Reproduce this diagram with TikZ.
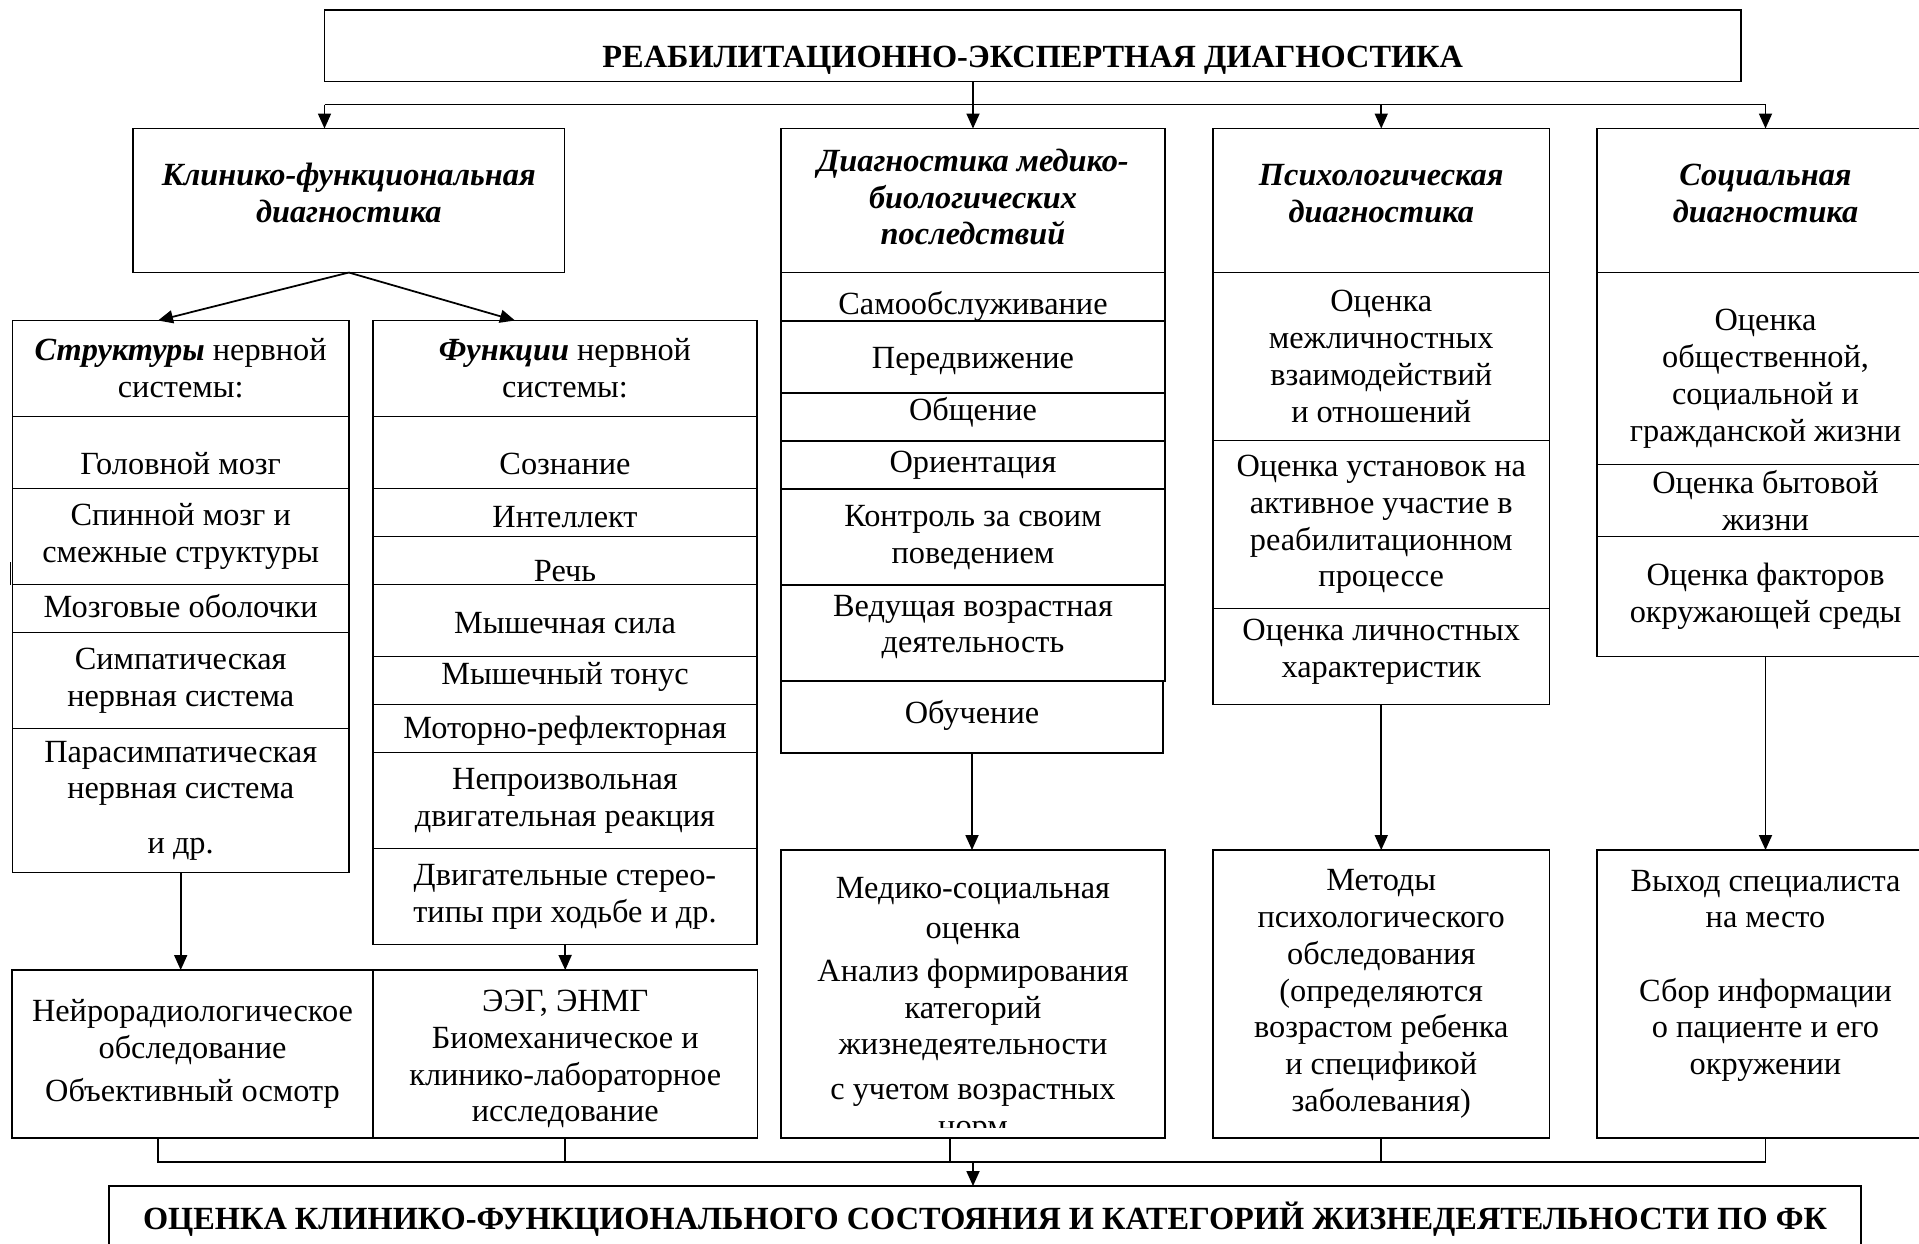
\documentclass[tikz,border=0pt]{standalone}
\usepackage{fontspec}
\setmainfont{Liberation Serif}
\usetikzlibrary{arrows.meta,positioning}
\newcommand{\cellfont}{\fontsize{9.2}{10.45}\selectfont}
\newcommand{\padhigh}[1]{\rule{0pt}{#1}}
\newcommand{\padlow}[1]{\rule[-#1]{0pt}{0pt}}
\tikzset{
  cell/.style={draw, line width=0.5pt, align=center, inner sep=0pt, outer sep=0pt, font=\cellfont},
  head/.style={cell, font=\cellfont\bfseries\itshape},
  caps/.style={cell, font=\cellfont\bfseries},
  note/.style={align=center, inner sep=0pt, font=\cellfont},
  span/.style={minimum height=#1*0.24cm},
  strcell/.style={cell, minimum width=3.366cm},
  funcell/.style={cell, minimum width=3.84cm},
  medcell/.style={cell, minimum width=3.84cm},
  psycell/.style={cell, minimum width=3.365cm},
  soccell/.style={cell, minimum width=3.37cm},
  arrow/.style={-{Triangle[length=1.5mm, width=1.3mm]}, line width=0.5pt},
  link/.style={line width=0.5pt}
}

\begin{document}
\begin{tikzpicture}[node distance=0pt]
  \useasboundingbox (0,0) rectangle (19.19,-12.43);
  \clip (0,0) rectangle (19.19,-12.43);

  \node[caps, anchor=north west, minimum width=14.165cm, minimum height=0.715cm, text height=0.44cm, text depth=0pt] (title) at (3.245,-0.10) {РЕАБИЛИТАЦИОННО-ЭКСПЕРТНАЯ ДИАГНОСТИКА};

  \node[head, anchor=north west, minimum width=4.316cm, span=6] (clin) at (1.33,-1.285) {Клинико-функциональная\\диагностика\padlow{4.2pt}};

  \node[strcell, anchor=north west, span=4] (structhead) at (0.124,-3.205) {\textbf{\textit{Структуры}} нервной\\системы:};
  \node[strcell, span=3, below=of structhead] (structbrain) {\padhigh{12.5pt}Головной мозг};
  \node[strcell, span=4, below=of structbrain] (structspine) {Спинной мозг и\\смежные структуры};
  \node[strcell, span=2, below=of structspine] (structmen) {Мозговые оболочки\padlow{1.4pt}};
  \node[strcell, span=4, below=of structmen] (structsymp) {Симпатическая\\нервная система};
  \node[strcell, span=6, below=of structsymp] (structpara) {Парасимпатическая\\нервная система\\[5pt]и др.};

  \node[funcell, anchor=north west, span=4] (funchead) at (3.73,-3.205) {\textbf{\textit{Функции}} нервной\\системы:};
  \node[funcell, span=3, below=of funchead] (funccons) {\padhigh{12.5pt}Сознание};
  \node[funcell, span=2, below=of funccons] (funcintel) {\padhigh{8.4pt}Интеллект};
  \node[funcell, span=2, below=of funcintel] (funcspeech) {\padhigh{11.9pt}Речь};
  \node[funcell, span=3, below=of funcspeech] (funcpower) {\padhigh{7.7pt}Мышечная сила};
  \node[funcell, span=2, below=of funcpower] (functone) {Мышечный тонус\padlow{4pt}};
  \node[funcell, span=2, below=of functone] (funcmotor) {\padhigh{7.7pt}Моторно-рефлекторная};
  \node[funcell, span=4, below=of funcmotor] (funcinvol) {Непроизвольная\\двигательная реакция};
  \node[funcell, span=4, below=of funcinvol] (funcstereo) {Двигательные стерео-\\типы при ходьбе и др.};

  \node[medcell, font=\cellfont\bfseries\itshape, anchor=north west, span=6] (medhead) at (7.81,-1.285) {Диагностика медико-\\биологических\\последствий\padlow{2.1pt}};
  \node[medcell, span=2, below=of medhead] (medself) {\padhigh{11.9pt}Самообслуживание};
  \node[medcell, span=3, below=of medself] (medmove) {\padhigh{8.4pt}Передвижение};
  \node[medcell, span=2, below=of medmove] (medcomm) {Общение\padlow{4.7pt}};
  \node[medcell, span=2, below=of medcomm] (medorient) {Ориентация};
  \node[medcell, span=4, below=of medorient] (medcontrol) {Контроль за своим\\поведением};
  \node[medcell, span=4, below=of medcontrol] (medlead) {Ведущая возрастная\\деятельность\padlow{5.4pt}};
  \node[cell, minimum width=3.82cm, span=3, below=of medlead.south west, anchor=north west] (medlearn) {Обучение\padlow{3.3pt}};

  \node[psycell, font=\cellfont\bfseries\itshape, anchor=north west, span=6] (psyhead) at (12.13,-1.285) {Психологическая\\диагностика\padlow{4.2pt}};
  \node[psycell, span=7, below=of psyhead] (psyinter) {Оценка\\межличностных\\взаимодействий\\и отношений};
  \node[psycell, span=7, below=of psyinter] (psyattit) {Оценка установок на\\активное участие в\\реабилитационном\\процессе};
  \node[psycell, span=4, below=of psyattit] (psypers) {Оценка личностных\\характеристик\padlow{4.7pt}};

  \node[soccell, font=\cellfont\bfseries\itshape, anchor=north west, span=6] (sochead) at (15.97,-1.285) {Социальная\\диагностика\padlow{4.2pt}};
  \node[soccell, span=8, below=of sochead] (soclife) {\padhigh{11.9pt}Оценка\\общественной,\\социальной и\\гражданской жизни};
  \node[soccell, span=3, below=of soclife] (sochome) {Оценка бытовой\\жизни};
  \node[soccell, span=5, below=of sochome] (socenv) {Оценка факторов\\окружающей среды};

  \node[cell, anchor=north west, minimum width=3.61cm, span=7] (neuro) at (0.12,-9.70) {Нейрорадиологическое\\обследование\\[2pt]Объективный осмотр};
  \node[cell, right=of neuro, minimum width=3.845cm, span=7] (eeg) {\padhigh{9.1pt}ЭЭГ, ЭНМГ\\Биомеханическое и\\клинико-лабораторное\\исследование};

  \node[medcell, anchor=north west, span=12] (medres) at (7.81,-8.50) {};
  \begin{scope}
    \clip (medres.north west) rectangle ([yshift=0.11cm]medres.south east);
    \node[note, anchor=north] (medtxt) at ([yshift=-0.265cm]medres.north) {Медико-социальная\\[1pt]оценка\\[1.7pt]Анализ формирования\\категорий\\жизнедеятельности\\[2.4pt]с учетом возрастных\\норм};
  \end{scope}
  \node[psycell, anchor=north west, span=12] (psyres) at (12.13,-8.50) {Методы\\психологического\\обследования\\(определяются\\возрастом ребенка\\и спецификой\\заболевания)};
  \node[soccell, anchor=north west, span=12] (socres) at (15.97,-8.50) {};
  \node[note] (soctxt) at ([yshift=0.183cm]socres.center) {Выход специалиста\\на место\\[10.45pt]Сбор информации\\о пациенте и его\\окружении};

  \node[caps, anchor=north west, minimum width=17.52cm, minimum height=0.66cm] (final) at (1.09,-11.86) {ОЦЕНКА КЛИНИКО-ФУНКЦИОНАЛЬНОГО СОСТОЯНИЯ И КАТЕГОРИЙ ЖИЗНЕДЕЯТЕЛЬНОСТИ ПО ФК};

  \coordinate (bus) at ([yshift=-0.23cm]title.south west);
  \draw[link] (bus) -- (bus -| sochead.north);
  \draw[arrow] (bus) -- (bus |- clin.north);
  \draw[arrow] (title.south -| medhead.north) -- (medhead.north);
  \draw[arrow] (bus -| psyhead.north) -- (psyhead.north);
  \draw[arrow] (bus -| sochead.north) -- (sochead.north);

  \draw[arrow] (clin.south) -- ([xshift=-0.227cm]structhead.north);
  \draw[arrow] (clin.south) -- ([xshift=-0.5cm]funchead.north);
  \draw[link] ([xshift=-0.02cm]structspine.south west) -- ++(0,0.23);

  \draw[arrow] (structpara.south) -- (structpara.south |- neuro.north);
  \draw[arrow] (funcstereo.south) -- (eeg.north);
  \draw[arrow] (medlearn.south) -- (medlearn.south |- medres.north);
  \draw[arrow] (psypers.south) -- (psyres.north);
  \draw[arrow] (socenv.south) -- (socres.north);

  \draw[link] ([xshift=-0.345cm]neuro.south) -- ++(0,-0.24) -| (socres.south);
  \draw[link] (eeg.south) -- ++(0,-0.24);
  \draw[link] ([xshift=-0.23cm]medres.south) -- ++(0,-0.24);
  \draw[link] (psyres.south) -- ++(0,-0.24);
  \draw[arrow] ([yshift=0.24cm]final.north -| medres.south) -- (final.north -| medres.south);
\end{tikzpicture}
\end{document}
